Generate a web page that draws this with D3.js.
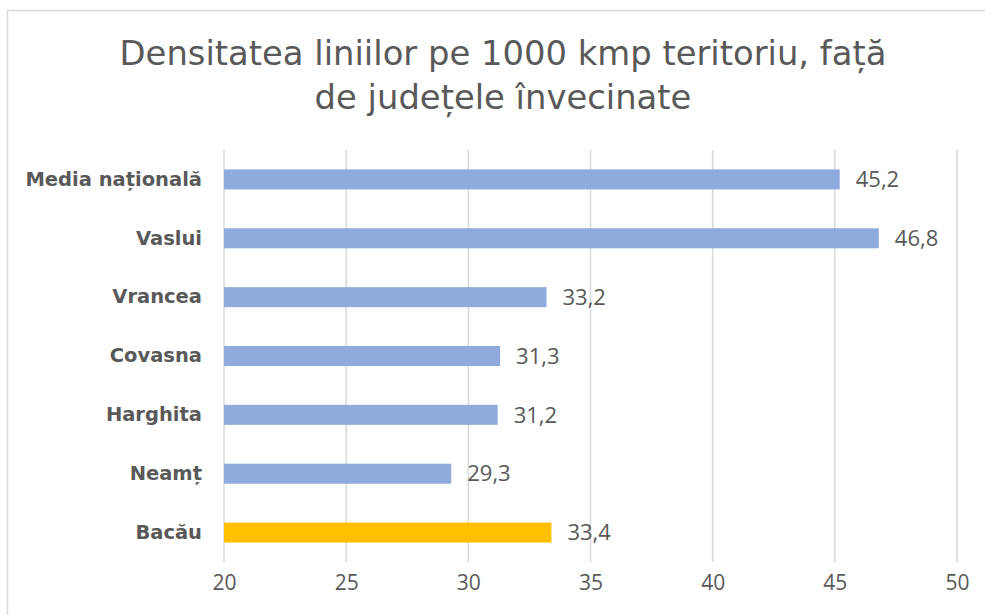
<!DOCTYPE html>
<html>
<head>
<meta charset="utf-8">
<script src="https://cdn.jsdelivr.net/npm/d3@7"></script>
<style>
  body { margin: 0; background: #fff; }
  text { fill: #595959; }
  .title, .cat text { font-family: "DejaVu Sans", sans-serif; }
  .num, .xaxis text { font-family: "Open Sans", sans-serif; }
</style>
</head>
<body>
<div id="chart"></div>
<script>
const categories = ["Media națională", "Vaslui", "Vrancea", "Covasna", "Harghita", "Neamț", "Bacău"];
const values = [45.2, 46.8, 33.2, 31.3, 31.2, 29.3, 33.4];
const barColors = ["#8FAADC", "#8FAADC", "#8FAADC", "#8FAADC", "#8FAADC", "#8FAADC", "#FFC000"];
const xTicks = [20, 25, 30, 35, 40, 45, 50];
const titleLines = ["Densitatea liniilor pe 1000 kmp teritoriu, față", "de județele învecinate"];

const W = 985, H = 615;
const margin = {top: 150, right: 28, bottom: 53, left: 224};
const width = W - margin.left - margin.right;
const height = H - margin.top - margin.bottom;

const data = categories.map((c, i) => ({name: c, value: values[i], color: barColors[i]}));

const svg = d3.select("#chart")
  .append("svg")
  .attr("width", W)
  .attr("height", H);

// chart frame (cut off on the right and bottom)
svg.append("rect")
  .attr("x", 7.5).attr("y", 10.5)
  .attr("width", 1000).attr("height", 700)
  .attr("fill", "none")
  .attr("stroke", "#d9d9d9")
  .attr("stroke-width", 1.5);

svg.append("g")
  .selectAll("text")
  .data(titleLines)
  .join("text")
  .attr("class", "title")
  .attr("x", 503)
  .attr("y", (d, i) => 65 + i * 44)
  .attr("text-anchor", "middle")
  .style("font-size", "33.8px")
  .text(d => d);

const g = svg.append("g")
  .attr("transform", `translate(${margin.left},${margin.top})`);

const x = d3.scaleLinear()
  .domain([20, 50])
  .range([0, width]);

const y = d3.scaleBand()
  .domain(categories)
  .range([0, height])
  .paddingInner(0.66)
  .paddingOuter(0.33);

// gridlines
g.append("g")
  .selectAll("line")
  .data(xTicks)
  .join("line")
  .attr("x1", d => x(d)).attr("x2", d => x(d))
  .attr("y1", 0).attr("y2", height)
  .attr("stroke", "#d9d9d9")
  .attr("stroke-width", 1.5);

const xAxis = g.append("g")
  .attr("class", "xaxis")
  .attr("transform", `translate(0,${height})`)
  .call(d3.axisBottom(x).tickValues(xTicks).tickSize(0).tickPadding(13));
xAxis.select(".domain").remove();
xAxis.selectAll("text").style("font-size", "21px").attr("fill", "#595959");

const yAxis = g.append("g")
  .attr("class", "cat")
  .call(d3.axisLeft(y).tickSize(0).tickPadding(22));
yAxis.select(".domain").remove();
yAxis.selectAll("text")
  .style("font-size", "19.5px")
  .style("font-weight", "bold")
  .attr("fill", "#595959");

g.append("g")
  .selectAll("rect")
  .data(data)
  .join("rect")
  .attr("x", x(20))
  .attr("y", d => y(d.name))
  .attr("width", d => x(d.value) - x(20))
  .attr("height", y.bandwidth())
  .attr("fill", d => d.color);

const fmt = v => d3.format(".1f")(v).replace(".", ",");
g.append("g")
  .selectAll("text")
  .data(data)
  .join("text")
  .attr("class", "num")
  .attr("x", d => x(d.value) + 16)
  .attr("y", d => y(d.name) + y.bandwidth() / 2)
  .attr("dy", "0.35em")
  .style("font-size", "22px")
  .text(d => fmt(d.value));
</script>
</body>
</html>
